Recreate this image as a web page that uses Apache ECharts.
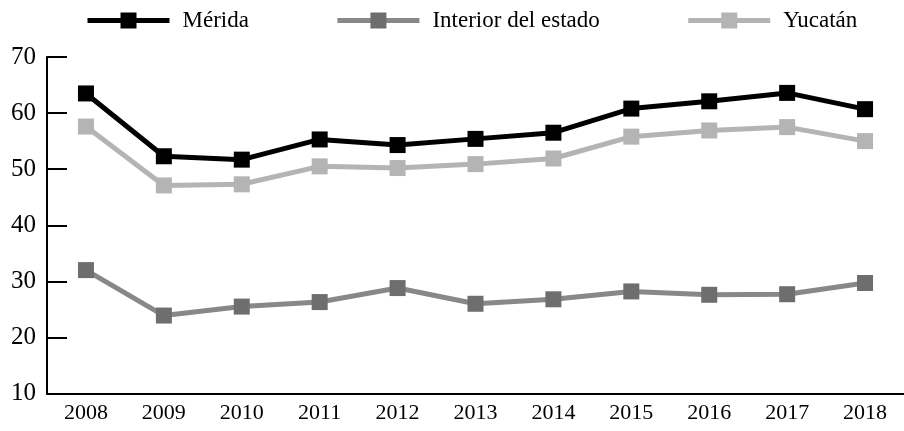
<!DOCTYPE html>
<html>
<head>
<meta charset="utf-8">
<script src="https://cdn.jsdelivr.net/npm/echarts@6/dist/echarts.min.js"></script>
<style>
  html, body { margin: 0; padding: 0; background: #fff; }
  #main { width: 904px; height: 431px; }
</style>
</head>
<body>
<div id="main"></div>
<script>
// years on the x axis
const years = ['2008', '2009', '2010', '2011', '2012', '2013', '2014', '2015', '2016', '2017', '2018'];

// values
const merida   = [63.5, 52.3, 51.7, 55.3, 54.3, 55.4, 56.5, 60.8, 62.1, 63.6, 60.7];
const interior = [32.0, 23.9, 25.5, 26.3, 28.8, 26.0, 26.8, 28.2, 27.6, 27.7, 29.7];
const yucatan  = [57.6, 47.1, 47.3, 50.5, 50.2, 50.9, 51.9, 55.8, 56.9, 57.5, 55.0];

const font = '"Liberation Serif", "DejaVu Serif", serif';

function line(name, data, lineColor, markColor) {
    return {
        name: name,
        type: 'line',
        data: data,
        symbol: 'rect',
        symbolSize: 16,
        lineStyle: { color: lineColor, width: 5 },
        itemStyle: { color: markColor },
        emphasis: { disabled: true },
        z: 3
    };
}

let chart = echarts.init(document.getElementById('main'));
chart.setOption({
    animation: false,
    legend: {
        top: 4,
        left: 80,
        itemWidth: 82,
        itemHeight: 20,
        itemGap: 86,
        lineStyle: { width: 5 },
        textStyle: { fontFamily: font, fontSize: 23, color: '#000', padding: [0, 0, 0, 8] },
        data: ['Mérida', 'Interior del estado', 'Yucatán']
    },
    grid: { left: 47, right: -3, top: 57, bottom: 37.5 },
    xAxis: {
        type: 'category',
        data: years,
        boundaryGap: true,
        axisLine: { lineStyle: { color: '#000', width: 2 } },
        axisTick: { inside: true, length: 8, lineStyle: { color: '#000', width: 2 } },
        axisLabel: { fontFamily: font, fontSize: 22, color: '#000', margin: 9 },
        splitLine: { show: false }
    },
    yAxis: {
        type: 'value',
        min: 10,
        max: 70,
        interval: 10,
        axisLine: { show: true, lineStyle: { color: '#000', width: 2 } },
        axisTick: { show: true, inside: true, length: 20, lineStyle: { color: '#000', width: 2 } },
        axisLabel: { fontFamily: font, fontSize: 25, color: '#000', margin: 11 },
        splitLine: { show: false }
    },
    series: [
        line('Mérida', merida, '#000000', '#000000'),
        line('Interior del estado', interior, '#888888', '#6e6e6e'),
        line('Yucatán', yucatan, '#b4b4b4', '#b4b4b4')
    ]
});
</script>
</body>
</html>
